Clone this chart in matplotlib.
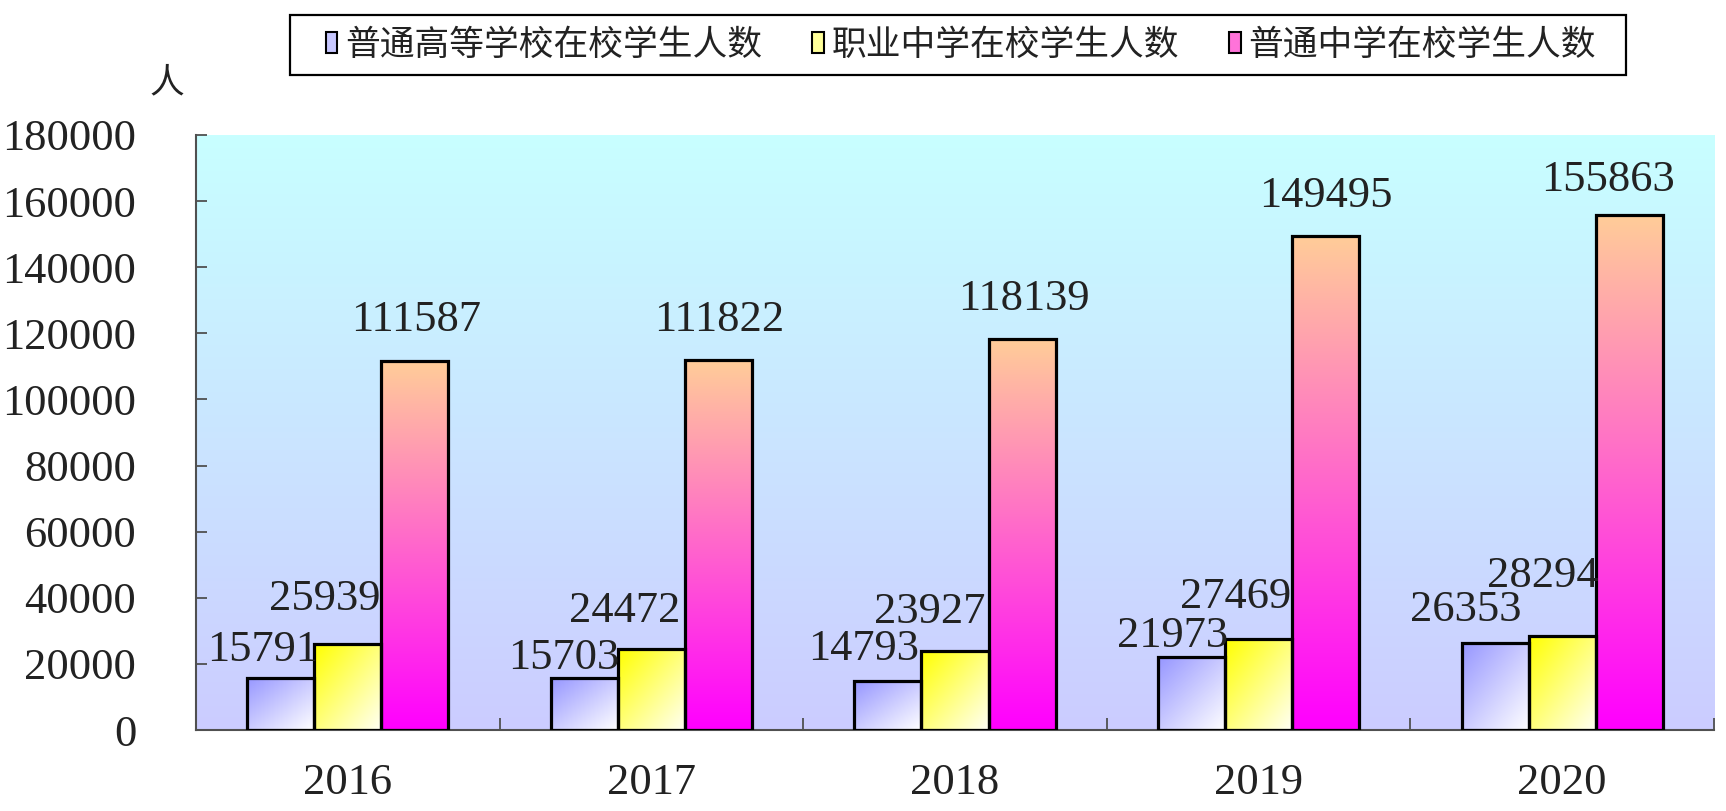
import numpy as np
import matplotlib
matplotlib.use("Agg")
import matplotlib.pyplot as plt
from matplotlib.patches import Patch, Rectangle

# ---- data ----
years = ["2016", "2017", "2018", "2019", "2020"]
series_names = ["普通高等学校在校学生人数", "职业中学在校学生人数", "普通中学在校学生人数"]
higher_edu = [15791, 15703, 14793, 21973, 26353]
vocational = [25939, 24472, 23927, 27469, 28294]
secondary = [111587, 111822, 118139, 149495, 155863]
y_ticks = [0, 20000, 40000, 60000, 80000, 100000, 120000, 140000, 160000, 180000]
y_unit = "人"

# label offsets (pixels, in reference scale) for the value labels
label_dx = [[-16, -19, -22, -17, -27], [-21, -24, -23, -21, -18], [1, 1, 2, 0, -19]]
label_dy = [[25, 18, 29, 19, 30], [41, 35, 35, 38, 55], [37, 37, 37, 36, 32]]

plt.rcParams['font.family'] = ['Liberation Serif', 'DejaVu Serif']
CJK = ['Noto Sans CJK SC', 'DejaVu Sans']

W, H = 1726, 811
fig = plt.figure(figsize=(W / 100, H / 100), dpi=100)
fig.patch.set_facecolor('white')
left, right, top, bottom = 196, 1714, 135, 730
ax = fig.add_axes([left / W, 1 - bottom / H, (right - left) / W, (bottom - top) / H])
ax.set_facecolor('none')

ax.set_xlim(-0.5, 4.5)
ax.set_ylim(0, 180000)

# background gradient
n = 256
tt = np.linspace(0, 1, n)[:, None]
c_top = np.array([200, 255, 255]) / 255
c_bot = np.array([204, 204, 255]) / 255
bg = c_top[None, None, :] * (1 - tt[..., None]) + c_bot[None, None, :] * tt[..., None]
bg = np.repeat(bg, 2, axis=1)
ax.imshow(bg, extent=(-0.5, 4.5, 0, 180000), origin='upper', aspect='auto', zorder=0)


def grad_img(c1, c2, diag):
    m = 80
    yy = np.linspace(0, 1, m)[:, None] * np.ones((1, m))
    xx = np.linspace(0, 1, m)[None, :] * np.ones((m, 1))
    t = (xx + yy) / 2 if diag else yy
    c1 = np.array(c1) / 255
    c2 = np.array(c2) / 255
    return c1[None, None, :] * (1 - t[..., None]) + c2[None, None, :] * t[..., None]


grads = [
    ((150, 150, 255), (255, 255, 255), True),
    ((255, 255, 0), (255, 255, 245), True),
    ((255, 204, 153), (255, 0, 255), False),
]
data = [higher_edu, vocational, secondary]
w = 0.221
x = np.arange(len(years))
for k, vals in enumerate(data):
    xs = x + (k - 1) * w
    bars = ax.bar(xs, vals, width=w, facecolor='none', edgecolor='black', linewidth=2.3, zorder=3)
    img = grad_img(*grads[k])
    for j, b in enumerate(bars):
        x0, y0 = b.get_x(), b.get_y()
        im = ax.imshow(img, extent=(x0, x0 + b.get_width(), y0, y0 + b.get_height()),
                       origin='upper', aspect='auto', zorder=2, interpolation='bilinear')
        im.set_clip_path(b)
        ax.annotate(str(vals[j]), xy=(xs[j], vals[j]),
                    xytext=(label_dx[k][j] * 1.1, label_dy[k][j] * 1.1),
                    textcoords='offset pixels', ha='center', va='center',
                    fontsize=32, color='#222222', zorder=5)

ax.set_xlim(-0.5, 4.5)
ax.set_ylim(0, 180000)

# axes styling
for s in ['top', 'right']:
    ax.spines[s].set_visible(False)
for s in ['left', 'bottom']:
    ax.spines[s].set_color('#505050')
    ax.spines[s].set_linewidth(1.5)

ax.set_yticks(y_ticks)
ax.set_yticklabels([str(v) for v in y_ticks])
ax.tick_params(axis='y', direction='in', length=8, width=1.3, color='#505050',
               labelsize=32, labelcolor='#222222', pad=43)
ax.set_xticks(x)
ax.set_xticklabels(years)
ax.tick_params(axis='x', which='major', length=0, labelsize=32, labelcolor='#222222', pad=24)
ax.set_xticks(np.arange(-0.5, 5.0, 1.0), minor=True)
ax.tick_params(axis='x', which='minor', direction='in', length=9, width=1.3, color='#505050')

# unit label
fig.text(167 / W, 1 - 83 / H, y_unit, fontsize=25, family=CJK, ha='center', va='center', color='#222222')

# legend box
fig.patches.append(Rectangle((290 / W, 1 - 75 / H), (1626 - 290) / W, 60 / H,
                             transform=fig.transFigure, facecolor='white',
                             edgecolor='black', linewidth=1.6, zorder=1))
handles = [Patch(facecolor=(0.78, 0.78, 1.0), edgecolor='black', linewidth=1.5),
           Patch(facecolor=(1.0, 1.0, 0.6), edgecolor='black', linewidth=1.5),
           Patch(facecolor=(1.0, 0.45, 0.85), edgecolor='black', linewidth=1.5)]
leg = fig.legend(handles, series_names, loc='center left', bbox_to_anchor=(326 / W, 1 - 45 / H),
                 ncol=3, frameon=False,
                 prop={'family': CJK, 'size': 25},
                 handlelength=0.33, handleheight=0.55, handletextpad=0.22,
                 columnspacing=1.45, borderpad=0, borderaxespad=0)
leg.set_zorder(2)
for t in leg.get_texts():
    t.set_color('#222222')

fig.savefig('out.png', dpi=100)
